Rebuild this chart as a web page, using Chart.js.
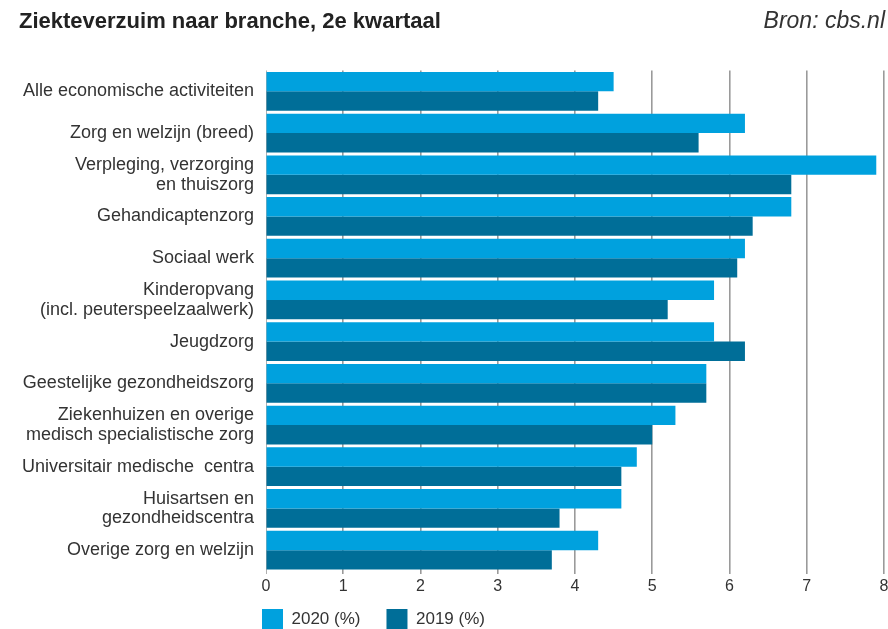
<!DOCTYPE html>
<html>
<head>
<meta charset="utf-8">
<script src="https://cdn.jsdelivr.net/npm/chart.js@4"></script>
<style>
  html, body { margin: 0; padding: 0; background: #fff; }
  #wrap { position: relative; width: 888px; height: 629px; overflow: hidden; }
  #titel { position: absolute; left: 19px; top: 8px; font: bold 22px "Liberation Sans", Arial, sans-serif; color: #222; }
  #bron { position: absolute; right: 3px; top: 7px; font: italic 23px "Liberation Sans", Arial, sans-serif; color: #333; }
  #grafiek { position: absolute; left: 0; top: 0; }
</style>
</head>
<body>
<div id="wrap">
  <canvas id="grafiek" width="888" height="629"></canvas>
  <div id="titel">Ziekteverzuim naar branche, 2e kwartaal</div>
  <div id="bron">Bron: cbs.nl</div>
</div>
<script>
// --- Data ---
const branches = [
    'Alle economische activiteiten',
    'Zorg en welzijn (breed)',
    ['Verpleging, verzorging', 'en thuiszorg'],
    'Gehandicaptenzorg',
    'Sociaal werk',
    ['Kinderopvang', '(incl. peuterspeelzaalwerk)'],
    'Jeugdzorg',
    'Geestelijke gezondheidszorg',
    ['Ziekenhuizen en overige', 'medisch specialistische zorg'],
    'Universitair medische  centra',
    ['Huisartsen en', 'gezondheidscentra'],
    'Overige zorg en welzijn'
];
const verzuim2020 = [4.5, 6.2, 7.9, 6.8, 6.2, 5.8, 5.8, 5.7, 5.3, 4.8, 4.6, 4.3];
const verzuim2019 = [4.3, 5.6, 6.8, 6.3, 6.1, 5.2, 6.2, 5.7, 5.0, 4.6, 3.8, 3.7];
const xMax = 8;

const lichtBlauw = '#00a1de';
const donkerBlauw = '#006e98';
const fontNaam = '"Liberation Sans", Arial, sans-serif';

// legenda links onder de grafiek zetten
const legendaPlugin = {
    id: 'legendaPositie',
    afterLayout(chart) {
        const pad = chart.options.plugins.legend.labels.padding;
        chart.legend.left = chart.chartArea.left - 4 - pad;
        chart.legend.top = chart.chartArea.bottom + 38 - pad;
    }
};

const ctx = document.getElementById('grafiek').getContext('2d');
new Chart(ctx, {
    type: 'bar',
    data: {
        labels: branches,
        datasets: [
            { label: '2020 (%)', data: verzuim2020, backgroundColor: lichtBlauw, borderWidth: 0 },
            { label: '2019 (%)', data: verzuim2019, backgroundColor: donkerBlauw, borderWidth: 0 }
        ]
    },
    options: {
        indexAxis: 'y',
        responsive: false,
        animation: false,
        devicePixelRatio: 1,
        layout: { padding: { top: 70.5, right: 0, left: 0, bottom: 0 } },
        datasets: { bar: { categoryPercentage: 0.93, barPercentage: 1 } },
        scales: {
            x: {
                min: 0, max: xMax,
                ticks: { stepSize: 1, color: '#333', padding: 3, font: { family: fontNaam, size: 16 } },
                grid: {
                    color: c => c.tick && c.tick.value === 0 ? '#b0b0b0' : '#9a9a9a',
                    lineWidth: c => c.tick && c.tick.value === 0 ? 1 : 1.6,
                    tickLength: 3
                },
                border: { display: false },
                afterFit: s => { s.height = 30; s.paddingRight = 4; }
            },
            y: {
                ticks: { autoSkip: false, color: '#333', padding: 12, font: { family: fontNaam, size: 18, lineHeight: 1.1 } },
                grid: { display: false, drawTicks: false },
                border: { display: false },
                afterFit: s => { s.width = 266; }
            }
        },
        plugins: {
            legend: {
                position: 'bottom',
                align: 'start',
                maxHeight: 28,
                labels: {
                    boxWidth: 21, boxHeight: 20, padding: 26,
                    color: '#333',
                    font: { family: fontNaam, size: 17 }
                }
            },
            tooltip: { enabled: false }
        }
    },
    plugins: [legendaPlugin]
});
</script>
</body>
</html>
